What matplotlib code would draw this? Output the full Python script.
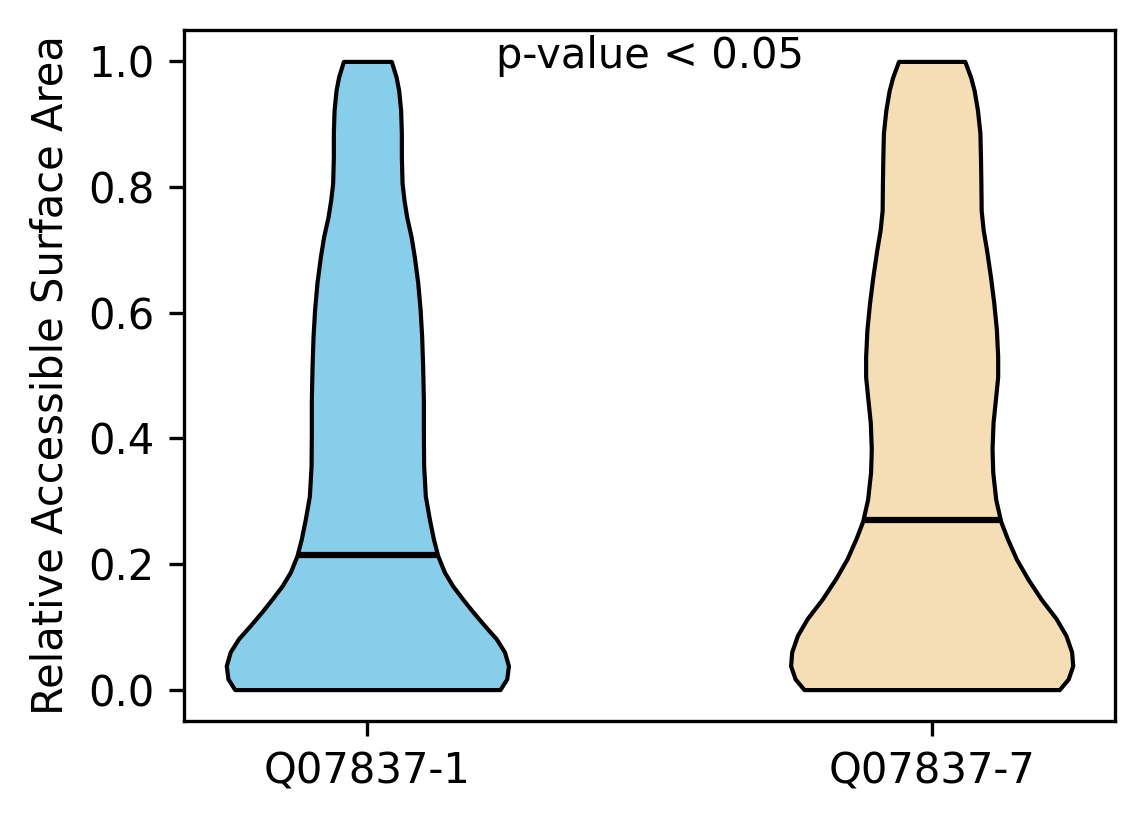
import numpy as np
import matplotlib
matplotlib.use('Agg')
import matplotlib.pyplot as plt

# 表示名と色
labels = ['Q07837-1', 'Q07837-7']
colors = ['skyblue', 'wheat']
medians = [0.215, 0.27]

# 画像から読み取った密度の輪郭（最大幅=1）
coords_1 = [0.0, 0.017, 0.038, 0.060, 0.081, 0.102, 0.124, 0.144, 0.165,
            0.187, 0.213, 0.240, 0.271, 0.308, 0.356, 0.410, 0.462, 0.514,
            0.562, 0.605, 0.648, 0.689, 0.721, 0.752, 0.779, 0.806, 0.848,
            0.886, 0.922, 0.954, 0.975, 1.0]
vals_1 = [0.94, 0.988, 1.0, 0.972, 0.913, 0.830, 0.747, 0.676, 0.605,
          0.546, 0.499, 0.468, 0.44, 0.411, 0.399, 0.397, 0.397, 0.392,
          0.385, 0.374, 0.357, 0.333, 0.310, 0.279, 0.260, 0.246, 0.241,
          0.241, 0.236, 0.222, 0.204, 0.17]

coords_2 = [0.0, 0.017, 0.038, 0.060, 0.086, 0.113, 0.144, 0.176, 0.208,
            0.240, 0.268, 0.303, 0.346, 0.383, 0.425, 0.462, 0.498, 0.530,
            0.573, 0.616, 0.657, 0.700, 0.732, 0.763, 0.806, 0.848, 0.886,
            0.922, 0.954, 0.975, 1.0]
vals_2 = [0.905, 0.968, 1.0, 0.992, 0.952, 0.882, 0.776, 0.682, 0.600,
          0.537, 0.489, 0.454, 0.433, 0.428, 0.435, 0.452, 0.468, 0.468,
          0.459, 0.440, 0.417, 0.389, 0.365, 0.351, 0.349, 0.346, 0.342,
          0.325, 0.301, 0.276, 0.235]

profiles = [(coords_1, vals_1), (coords_2, vals_2)]
positions = [1, 2]
width = 0.5

vpstats = []
for (c, v), m in zip(profiles, medians):
    vpstats.append({
        'coords': np.array(c),
        'vals': np.array(v),
        'mean': m,
        'median': m,
        'min': min(c),
        'max': max(c),
    })

fig = plt.figure(figsize=(1144 / 300, 824 / 300), dpi=300)
ax = fig.add_axes([0.1608, 0.125, 0.9747 - 0.1608, 0.9636 - 0.125])

parts = ax.violin(vpstats, positions=positions, widths=width,
                  showmeans=False, showextrema=False, showmedians=False)
for body, col in zip(parts['bodies'], colors):
    body.set_facecolor(col)
    body.set_edgecolor('black')
    body.set_linewidth(1.0)
    body.set_alpha(1)
    body.set_joinstyle('round')

# 中央値の線（バイオリンの幅いっぱい）
for pos, (c, v), m in zip(positions, profiles, medians):
    hw = 0.5 * width * np.interp(m, c, v) / max(v)
    ax.hlines(m, pos - hw, pos + hw, color='black', linewidth=1.5)

ax.text(1.5, 0.99, 'p-value < 0.05', ha='center', fontsize=10)

ax.set_xticks(positions)
ax.set_xticklabels(labels)
ax.set_xlim(0.675, 2.325)
ax.set_ylim(-0.05, 1.05)
ax.set_ylabel('Relative Accessible Surface Area')

fig.savefig('out.png', dpi=300)
